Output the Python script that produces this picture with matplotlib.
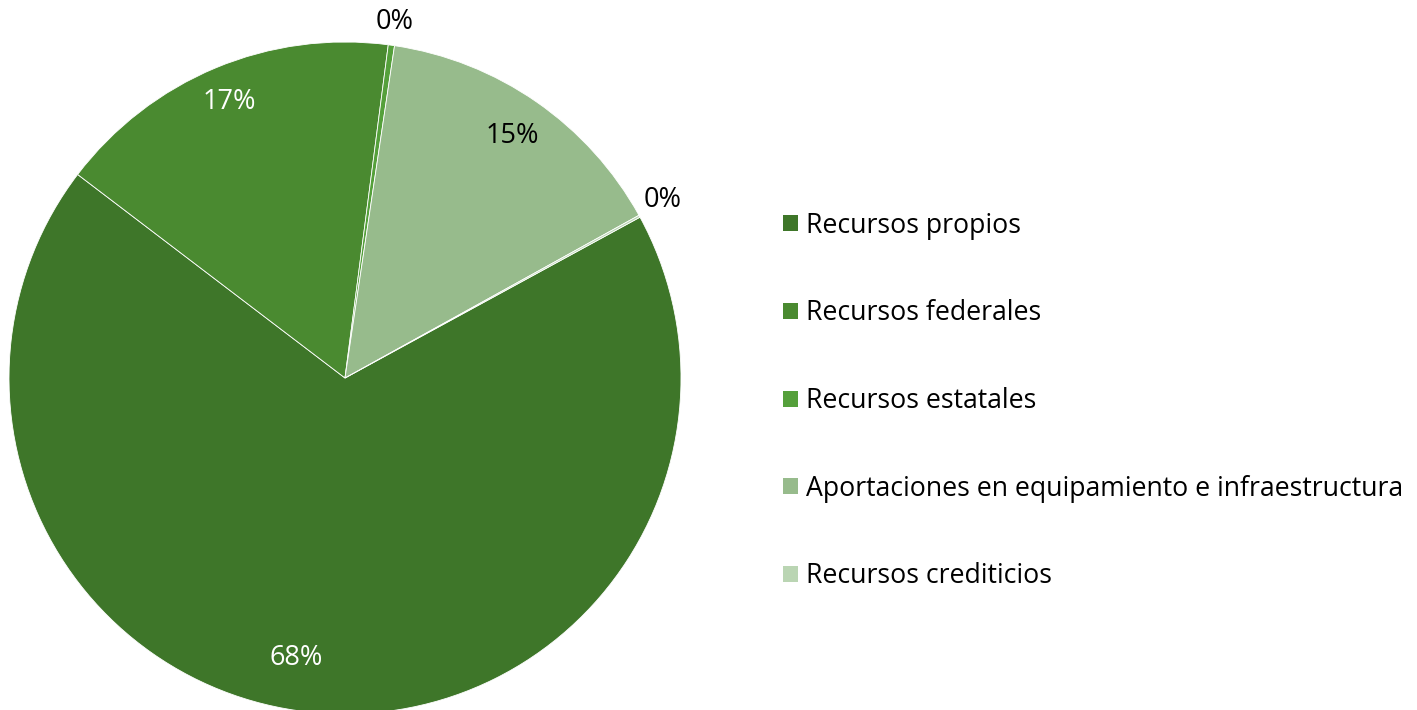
import numpy as np
import matplotlib
matplotlib.use("Agg")
import matplotlib.pyplot as plt
from matplotlib.patches import Patch

plt.rcParams['font.family'] = ['Open Sans', 'DejaVu Sans']

categories = ["Recursos propios", "Recursos federales", "Recursos estatales",
              "Aportaciones en equipamiento e infraestructura", "Recursos crediticios"]
values = [68.3, 16.7, 0.3, 14.6, 0.1]
labels = ["68%", "17%", "0%", "15%", "0%"]
colors = ["#3e7629", "#4a8a30", "#55a03b", "#97bb8c", "#bad5b3"]
label_colors = ["white", "white", "black", "black", "black"]
label_r = [0.845, 0.89, 1.07, 0.875, 1.085]
label_dang = [-5.5, 0, 0, 0, 0.5]

W, H = 1417, 710
fig = plt.figure(figsize=(W / 100, H / 100), dpi=100)
cx, cy, R = 345, 378, 336
ax = fig.add_axes([(cx - R) / W, (H - cy - R) / H, 2 * R / W, 2 * R / H])
wedges, _ = ax.pie(values, colors=colors, startangle=28.6, counterclock=False,
                   radius=1.0, wedgeprops=dict(linewidth=0.6, edgecolor="white"))
ax.set_xlim(-1, 1)
ax.set_ylim(-1, 1)
ax.set_aspect("equal")
ax.axis("off")

for w, lab, c, r, da in zip(wedges, labels, label_colors, label_r, label_dang):
    th = np.deg2rad((w.theta1 + w.theta2) / 2 + da)
    ax.text(r * np.cos(th), r * np.sin(th), lab, color=c, fontsize=19.5,
            ha="center", va="center", clip_on=False)

handles = [Patch(facecolor=c, edgecolor="none") for c in colors]
fig.legend(handles, categories, loc="center left",
           bbox_to_anchor=(783 / W, 1 - 401 / H), frameon=False, fontsize=19.2,
           handlelength=0.55, handleheight=0.55, handletextpad=0.3,
           labelspacing=2.24, borderaxespad=0, borderpad=0)

fig.savefig("out.png", dpi=100)
